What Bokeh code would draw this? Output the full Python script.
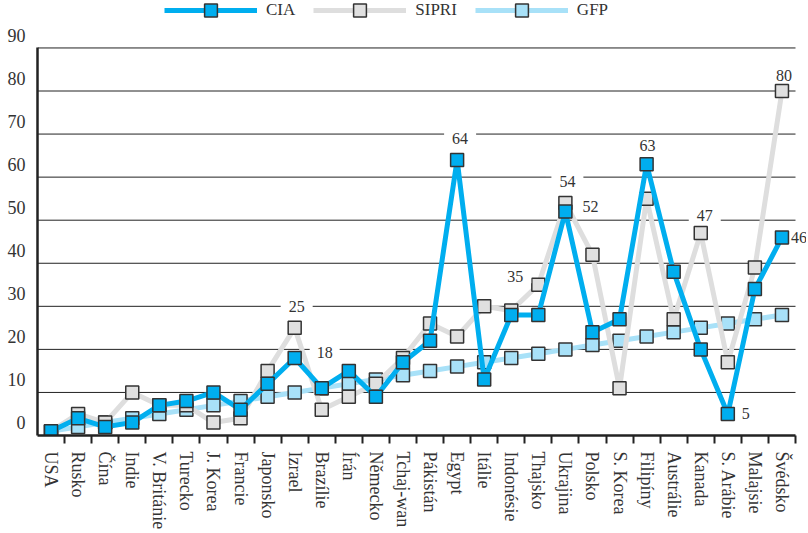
from bokeh.plotting import figure
from bokeh.models import (Range1d, LinearAxis, FixedTicker, ColumnDataSource,
                          Label, Legend, LegendItem)
from bokeh.embed import file_html
from bokeh.resources import INLINE

countries = ["USA", "Rusko", "Čína", "Indie", "V. Británie", "Turecko", "J. Korea", "Francie",
             "Japonsko", "Izrael", "Brazílie", "Írán", "Německo", "Tchaj-wan", "Pákistán", "Egypt",
             "Itálie", "Indonésie", "Thajsko", "Ukrajina", "Polsko", "S. Korea", "Filipíny",
             "Austrálie", "Kanada", "S. Arábie", "Malajsie", "Švédsko"]
cia = [1, 4, 2, 3, 7, 8, 10, 6, 12, 18, 11, 15, 9, 17, 22, 64, 13, 28, 28, 52, 24, 27, 63, 38, 20, 5, 34, 46]
sipri = [1, 5, 3, 10, 7, 7, 3, 4, 15, 25, 6, 9, 12, 18, 26, 23, 30, 29, 35, 54, 42, 11, 55, 27, 47, 17, 39, 80]
gfp = [1, 2, 3, 4, 5, 6, 7, 8, 9, 10, 11, 12, 13, 14, 15, 16, 17, 18, 19, 20, 21, 22, 23, 24, 25, 26, 27, 28]
y_ticks = [0, 10, 20, 30, 40, 50, 60, 70, 80, 90]

# annotated points: (country, series)
ann_points = [("Izrael", "SIPRI"), ("Izrael", "CIA"), ("Egypt", "CIA"), ("Thajsko", "SIPRI"),
              ("Ukrajina", "SIPRI"), ("Ukrajina", "CIA"), ("Filipíny", "CIA"), ("Kanada", "SIPRI"),
              ("Švédsko", "SIPRI"), ("Švédsko", "CIA"), ("S. Arábie", "CIA")]
# label offsets / horizontal background padding in screen px (style)
ann_dx = [2, 30, 3, -23, 2, 25, 1, 4, 2, 17, 18]
ann_dy = [21, 5, 21, 8, 21, 5, 19, 18, 16, 0, 0]
ann_pad = [8, 7, 8, 8, 8, 4, 8, 8, 6, 1, 2]

FONT = "Liberation Serif"
TXT = "#333333"

n = len(countries)
# category slot centres on a numeric axis (slot i spans i..i+1)
xpos = [i + 0.5 for i in range(n)]
slot_edges = [i + 1 for i in range(n)]

W, H = 806, 532
LEFT, TOP, BOTTOM = 37, 0, 92
SLOT_PX = 758 / n              # width of one category slot in px
UNIT_PX = 392 / 90             # px per y unit
frame_w = W - LEFT
frame_h = H - TOP - BOTTOM
x_end = frame_w / SLOT_PX      # frame extends a bit past the last slot (room for "46")
y_end = frame_h / UNIT_PX      # frame extends above 90 (room for the legend)

p = figure(x_range=Range1d(0, x_end), y_range=Range1d(0, y_end),
           width=W, height=H,
           min_border_left=LEFT, min_border_right=0, min_border_top=TOP, min_border_bottom=BOTTOM,
           output_backend="svg", toolbar_location=None)
p.outline_line_color = None
p.background_fill_color = "white"
p.border_fill_color = "white"
p.xgrid.visible = False
p.ygrid.visible = False

# horizontal grid lines, limited to the category area
p.segment(x0=[0] * (len(y_ticks) - 1), x1=[n] * (len(y_ticks) - 1), y0=y_ticks[1:], y1=y_ticks[1:],
          line_color="#222222", line_width=1)

# y axis line (main range) limited to 0..90, without ticks/labels
yax = p.yaxis[0]
yax.ticker = FixedTicker(ticks=[])
yax.bounds = (0, 90)
yax.axis_line_width = 2.5
yax.axis_line_color = "#222222"
yax.major_tick_out = 0
yax.major_tick_in = 0
yax.minor_tick_line_color = None
yax.major_label_standoff = 0

# y tick labels drawn slightly above the grid lines
p.extra_y_ranges = {"lab": Range1d(-3, y_end - 3)}
lab_ax = LinearAxis(y_range_name="lab", ticker=FixedTicker(ticks=y_ticks),
                    axis_line_color=None, major_tick_line_color=None, minor_tick_line_color=None,
                    major_tick_out=0, major_tick_in=0, major_label_standoff=12,
                    major_label_text_font=FONT, major_label_text_font_size="18px",
                    major_label_text_color=TXT)
p.add_layout(lab_ax, "left")

# x axis: labels at category centres, ticks at category boundaries
xax = p.xaxis[0]
xax.bounds = (0, n)
xax.ticker = FixedTicker(ticks=xpos, minor_ticks=slot_edges)
xax.major_label_overrides = {c: name for c, name in zip(xpos, countries)}
xax.major_label_orientation = "vertical"
xax.major_tick_line_color = None
xax.major_tick_out = 0
xax.major_tick_in = 0
xax.minor_tick_out = 8
xax.minor_tick_in = 0
xax.minor_tick_line_color = "#222222"
xax.minor_tick_line_width = 2
xax.axis_line_width = 2.5
xax.axis_line_color = "#222222"
xax.major_label_standoff = 8
xax.major_label_text_font = FONT
xax.major_label_text_font_size = "18px"
xax.major_label_text_color = TXT

series = {"CIA": cia, "SIPRI": sipri, "GFP": gfp}
line_col = {"CIA": "#00AEEF", "SIPRI": "#DEDEDE", "GFP": "#A8E1F8"}
fill_col = {"CIA": "#00AEEF", "SIPRI": "#E0E0E0", "GFP": "#A8E1F8"}

rends = {}
for name in ["GFP", "SIPRI", "CIA"]:
    src = ColumnDataSource(dict(x=xpos, y=series[name], country=countries))
    l = p.line("x", "y", source=src, line_width=5, line_color=line_col[name], line_join="round")
    s = p.scatter("x", "y", source=src, marker="square", size=13, fill_color=fill_col[name],
                  line_color="#333333", line_width=1.5)
    rends[name] = [l, s]

for (c, sname), dx, dy, pad in zip(ann_points, ann_dx, ann_dy, ann_pad):
    i = countries.index(c)
    v = series[sname][i]
    p.add_layout(Label(x=xpos[i], y=v, text=str(v), x_offset=dx, y_offset=dy,
                       text_align="center", text_baseline="middle", text_font=FONT,
                       text_font_size="16px", text_color=TXT, background_fill_color="white",
                       padding=dict(left=pad, right=pad, top=1, bottom=1)))

legend = Legend(items=[LegendItem(label=k, renderers=rends[k]) for k in ["CIA", "SIPRI", "GFP"]],
                orientation="horizontal", location=(127, frame_h - 31), glyph_width=93,
                glyph_height=32, label_standoff=9, spacing=18, padding=0, margin=0,
                border_line_color=None, background_fill_alpha=0, label_text_font=FONT,
                label_text_font_size="17px", label_text_color=TXT)
p.add_layout(legend)

open("out.html", "w").write(file_html(p, INLINE))
